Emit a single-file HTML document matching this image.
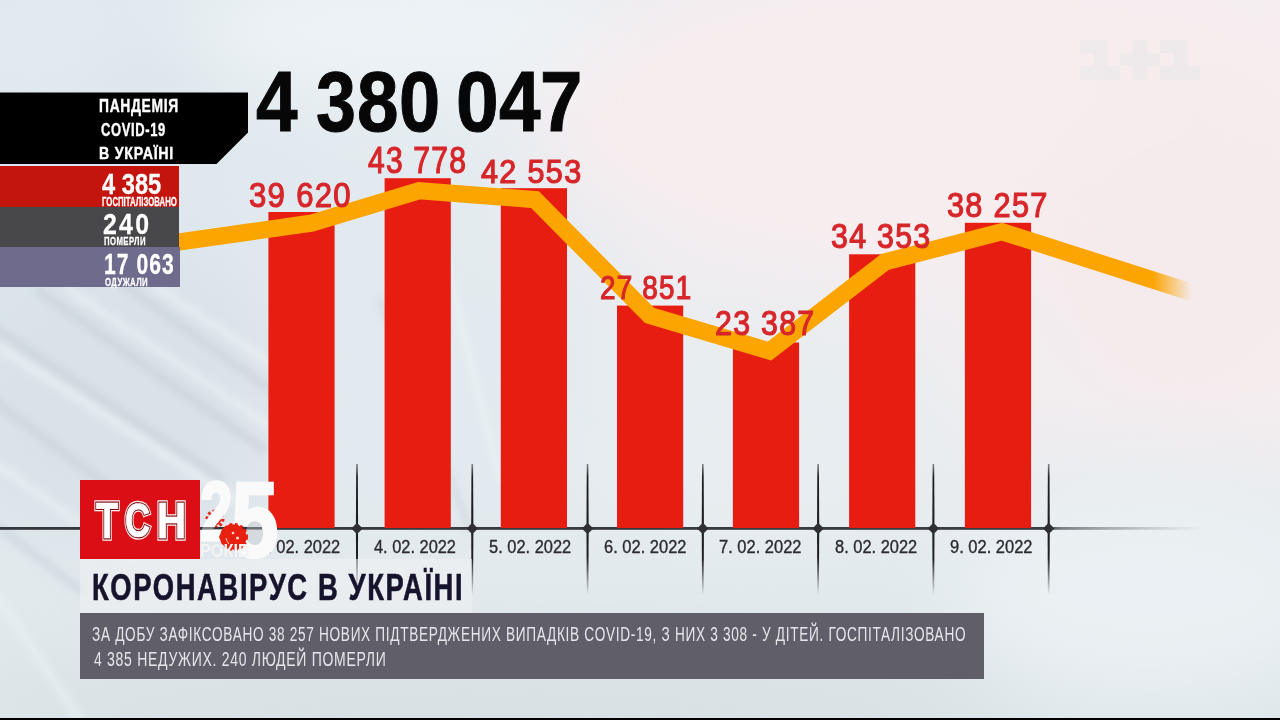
<!DOCTYPE html>
<html><head><meta charset="utf-8">
<style>
html,body{margin:0;padding:0;}
body{width:1280px;height:720px;overflow:hidden;position:relative;font-family:"Liberation Sans",sans-serif;background:#e4e8eb;}
.t{position:absolute;white-space:nowrap;line-height:1;transform-origin:0 0;}
.abs{position:absolute;}
#bg{position:absolute;left:0;top:0;width:1280px;height:720px;}
</style></head><body>
<div id="wrap" style="position:absolute;left:0;top:0;width:1280px;height:720px;filter:blur(0.45px)">
<svg id="bg" width="1280" height="720" viewBox="0 0 1280 720">
<defs>
  <filter id="b40" x="-50%" y="-50%" width="200%" height="200%"><feGaussianBlur stdDeviation="40"/></filter>
  <filter id="b20" x="-50%" y="-50%" width="200%" height="200%"><feGaussianBlur stdDeviation="20"/></filter>
  <filter id="b4" x="-20%" y="-20%" width="140%" height="140%"><feGaussianBlur stdDeviation="3.5"/></filter>
  <linearGradient id="bgH" x1="0" y1="0" x2="1" y2="0">
    <stop offset="0" stop-color="#dce6ec"/>
    <stop offset="0.35" stop-color="#e3ebf0"/>
    <stop offset="0.55" stop-color="#eeedf0"/>
    <stop offset="1" stop-color="#f5edef"/>
  </linearGradient>
  <linearGradient id="bgV" x1="0" y1="0" x2="0" y2="1">
    <stop offset="0" stop-color="#e2eaee" stop-opacity="0"/>
    <stop offset="0.55" stop-color="#e2eaee" stop-opacity="0"/>
    <stop offset="0.78" stop-color="#e2eaee" stop-opacity="1"/>
    <stop offset="1" stop-color="#dde6ea" stop-opacity="1"/>
  </linearGradient>
</defs>
<rect width="1280" height="720" fill="url(#bgH)"/>
<rect width="1280" height="720" fill="url(#bgV)"/>
<g filter="url(#b40)">
  <ellipse cx="60" cy="40" rx="140" ry="60" fill="#e2ebf1"/>
  <ellipse cx="400" cy="30" rx="220" ry="70" fill="#edf3f6"/>
  <ellipse cx="920" cy="120" rx="380" ry="150" fill="#f7edef"/>
  <ellipse cx="1180" cy="240" rx="130" ry="150" fill="#f5eaec"/>
  <ellipse cx="1150" cy="590" rx="200" ry="110" fill="#eaf0f3"/>
  <ellipse cx="120" cy="400" rx="170" ry="150" fill="#d9e2e8"/>
  <ellipse cx="440" cy="400" rx="170" ry="150" fill="#e2eaef"/>
  <ellipse cx="760" cy="430" rx="200" ry="110" fill="#e7edf0"/>
  <ellipse cx="500" cy="705" rx="520" ry="40" fill="#d8dfe3"/>
  <ellipse cx="150" cy="85" rx="50" ry="30" fill="#d9e1e7"/>
</g>
<g filter="url(#b4)" stroke-linecap="round" fill="none" opacity="0.6">
  <path d="M-20,318 L220,478" stroke="#c8d1d8" stroke-width="10"/>
  <path d="M0,348 L235,500" stroke="#eef4f7" stroke-width="9"/>
  <path d="M40,292 L262,448" stroke="#c8d1d8" stroke-width="10"/>
  <path d="M70,290 L272,428" stroke="#eef4f7" stroke-width="8"/>
  <path d="M120,282 L282,398" stroke="#cad3da" stroke-width="10"/>
  <path d="M155,286 L300,382" stroke="#eef4f7" stroke-width="8"/>
  <path d="M-10,398 L165,528" stroke="#c9d2d9" stroke-width="10"/>
  <path d="M-20,452 L132,562" stroke="#edf3f6" stroke-width="9"/>
  <path d="M-10,520 L80,590" stroke="#cbd4db" stroke-width="9"/>
  <path d="M0,600 L80,720" stroke="#eaf1f4" stroke-width="10"/>
  <path d="M380,300 L470,530" stroke="#cdd5dc" stroke-width="7"/>
  <path d="M440,240 L500,480" stroke="#f0f5f8" stroke-width="6"/>
</g>
</svg>
<svg class="abs" style="left:0;top:0" width="1280" height="720" viewBox="0 0 1280 720"><g fill="#e8e8e9" opacity="0.5"><path d="M1080,40 H1107 V66 H1120 V80 H1080 V66 H1094 V53 H1080 Z"/><path d="M1120,53 H1133 V40 H1147 V53 H1160 V66 H1147 V80 H1133 V66 H1120 Z"/><path d="M1160,40 H1187 V66 H1200 V80 H1160 V66 H1174 V53 H1160 Z"/></g></svg>
<svg class="abs" style="left:0;top:0" width="1280" height="720" viewBox="0 0 1280 720">
<defs><linearGradient id="axg" x1="0" y1="0" x2="1280" y2="0" gradientUnits="userSpaceOnUse"><stop offset="0" stop-color="#34373b"/><stop offset="0.815" stop-color="#3a3d41"/><stop offset="0.83" stop-color="#7d8186"/><stop offset="0.94" stop-color="#9aa0a5" stop-opacity="0"/></linearGradient><linearGradient id="tkg" x1="0" y1="464" x2="0" y2="595" gradientUnits="userSpaceOnUse"><stop offset="0" stop-color="#1d1f22" stop-opacity="0.5"/><stop offset="0.1" stop-color="#1d1f22"/><stop offset="0.72" stop-color="#1d1f22"/><stop offset="1" stop-color="#1d1f22" stop-opacity="0"/></linearGradient><linearGradient id="lng" x1="1150" y1="0" x2="1192" y2="0" gradientUnits="userSpaceOnUse"><stop offset="0" stop-color="#fca400"/><stop offset="1" stop-color="#fca400" stop-opacity="0"/></linearGradient></defs>
<rect x="0" y="527" width="1210" height="2.8" fill="url(#axg)"/>
<path d="M356.20,464 L355.90,528 L356.20,595 L357.80,595 L358.10,528 L357.80,464 Z" fill="url(#tkg)"/>
<rect x="353.00" y="524.50" width="8" height="8" fill="#2e3034" transform="rotate(45 357.00 528.50)"/>
<path d="M471.48,464 L471.18,528 L471.48,595 L473.08,595 L473.38,528 L473.08,464 Z" fill="url(#tkg)"/>
<rect x="468.28" y="524.50" width="8" height="8" fill="#2e3034" transform="rotate(45 472.28 528.50)"/>
<path d="M586.76,464 L586.46,528 L586.76,595 L588.36,595 L588.66,528 L588.36,464 Z" fill="url(#tkg)"/>
<rect x="583.56" y="524.50" width="8" height="8" fill="#2e3034" transform="rotate(45 587.56 528.50)"/>
<path d="M702.04,464 L701.74,528 L702.04,595 L703.64,595 L703.94,528 L703.64,464 Z" fill="url(#tkg)"/>
<rect x="698.84" y="524.50" width="8" height="8" fill="#2e3034" transform="rotate(45 702.84 528.50)"/>
<path d="M817.32,464 L817.02,528 L817.32,595 L818.92,595 L819.22,528 L818.92,464 Z" fill="url(#tkg)"/>
<rect x="814.12" y="524.50" width="8" height="8" fill="#2e3034" transform="rotate(45 818.12 528.50)"/>
<path d="M932.60,464 L932.30,528 L932.60,595 L934.20,595 L934.50,528 L934.20,464 Z" fill="url(#tkg)"/>
<rect x="929.40" y="524.50" width="8" height="8" fill="#2e3034" transform="rotate(45 933.40 528.50)"/>
<path d="M1047.88,464 L1047.58,528 L1047.88,595 L1049.48,595 L1049.78,528 L1049.48,464 Z" fill="url(#tkg)"/>
<rect x="1044.68" y="524.50" width="8" height="8" fill="#2e3034" transform="rotate(45 1048.68 528.50)"/>
<rect x="268.40" y="212.00" width="66.20" height="316.00" fill="#e81d12"/>
<rect x="384.60" y="178.20" width="66.20" height="349.80" fill="#e81d12"/>
<rect x="500.80" y="188.20" width="66.20" height="339.80" fill="#e81d12"/>
<rect x="617.00" y="305.60" width="66.20" height="222.40" fill="#e81d12"/>
<rect x="732.90" y="342.50" width="66.20" height="185.50" fill="#e81d12"/>
<rect x="849.10" y="254.30" width="66.20" height="273.70" fill="#e81d12"/>
<rect x="964.90" y="222.80" width="66.20" height="305.20" fill="#e81d12"/>
</svg>
<div class="t" style="left:258.28px;top:537.97px;font-size:18.30px;font-weight:normal;color:#2b2b30;transform:scaleX(0.8989);-webkit-text-stroke:0.35px #2b2b30;">3. 02. 2022</div>
<div class="t" style="left:373.82px;top:537.97px;font-size:18.30px;font-weight:normal;color:#2b2b30;transform:scaleX(0.8961);-webkit-text-stroke:0.35px #2b2b30;">4. 02. 2022</div>
<div class="t" style="left:488.84px;top:537.97px;font-size:18.30px;font-weight:normal;color:#2b2b30;transform:scaleX(0.8989);-webkit-text-stroke:0.35px #2b2b30;">5. 02. 2022</div>
<div class="t" style="left:603.86px;top:537.97px;font-size:18.30px;font-weight:normal;color:#2b2b30;transform:scaleX(0.9018);-webkit-text-stroke:0.35px #2b2b30;">6. 02. 2022</div>
<div class="t" style="left:719.14px;top:537.97px;font-size:18.30px;font-weight:normal;color:#2b2b30;transform:scaleX(0.9018);-webkit-text-stroke:0.35px #2b2b30;">7. 02. 2022</div>
<div class="t" style="left:834.68px;top:537.97px;font-size:18.30px;font-weight:normal;color:#2b2b30;transform:scaleX(0.8989);-webkit-text-stroke:0.35px #2b2b30;">8. 02. 2022</div>
<div class="t" style="left:949.70px;top:537.97px;font-size:18.30px;font-weight:normal;color:#2b2b30;transform:scaleX(0.9018);-webkit-text-stroke:0.35px #2b2b30;">9. 02. 2022</div>
<svg class="abs" style="left:0;top:0" width="1280" height="720" viewBox="0 0 1280 720"><defs><linearGradient id="lng2" x1="1145" y1="0" x2="1195" y2="0" gradientUnits="userSpaceOnUse"><stop offset="0" stop-color="#fca400"/><stop offset="1" stop-color="#fca400" stop-opacity="0"/></linearGradient><linearGradient id="lng1" x1="0" y1="0" x2="1280" y2="0" gradientUnits="userSpaceOnUse"><stop offset="0" stop-color="#fca400"/><stop offset="0.9" stop-color="#fca400"/><stop offset="0.931" stop-color="#fca400" stop-opacity="0"/></linearGradient></defs><polyline points="150.0,247.5 179.0,242.0 312.0,223.0 419.0,190.7 535.0,199.7 649.6,315.5 769.5,351.0 885.0,262.0 1002.0,231.7 1192.0,292.5" fill="none" stroke="url(#lng1)" stroke-width="17.2" stroke-linejoin="miter" stroke-miterlimit="4"/></svg>
<div class="t" style="left:249.23px;top:177.81px;font-size:35.83px;font-weight:normal;color:#d7262a;transform:scaleX(0.8678);letter-spacing:1.50px;-webkit-text-stroke:1.2px #d7262a;">39 620</div>
<div class="t" style="left:367.78px;top:143.44px;font-size:36.66px;font-weight:normal;color:#d7262a;transform:scaleX(0.8178);letter-spacing:1.50px;-webkit-text-stroke:1.2px #d7262a;">43 778</div>
<div class="t" style="left:481.12px;top:155.49px;font-size:33.88px;font-weight:normal;color:#d7262a;transform:scaleX(0.9019);letter-spacing:1.50px;-webkit-text-stroke:1.2px #d7262a;">42 553</div>
<div class="t" style="left:599.95px;top:271.43px;font-size:33.95px;font-weight:normal;color:#d7262a;transform:scaleX(0.8199);letter-spacing:1.50px;-webkit-text-stroke:1.2px #d7262a;">27 851</div>
<div class="t" style="left:714.53px;top:304.83px;font-size:35.34px;font-weight:normal;color:#d7262a;transform:scaleX(0.8578);letter-spacing:1.50px;-webkit-text-stroke:1.2px #d7262a;">23 387</div>
<div class="t" style="left:830.65px;top:219.11px;font-size:35.83px;font-weight:normal;color:#d7262a;transform:scaleX(0.8469);letter-spacing:1.50px;-webkit-text-stroke:1.2px #d7262a;">34 353</div>
<div class="t" style="left:946.94px;top:188.00px;font-size:34.85px;font-weight:normal;color:#d7262a;transform:scaleX(0.8795);letter-spacing:1.50px;-webkit-text-stroke:1.2px #d7262a;">38 257</div>
<div class="abs" style="left:0;top:92.4px;width:248px;height:72.1px;background:#000;clip-path:polygon(0 0,248px 0,248px 40.1px,216px 72.1px,0 72.1px)"></div>
<div class="abs" style="left:0;top:166px;width:179px;height:40.5px;background:#c4140e"></div>
<div class="abs" style="left:0;top:206.5px;width:179px;height:40px;background:#48484a"></div>
<div class="abs" style="left:0;top:246.5px;width:179.5px;height:40px;background:#6e6b8d"></div>
<div class="t" style="left:99.48px;top:97.05px;font-size:18.13px;font-weight:bold;color:#fff;transform:scaleX(0.7644);letter-spacing:0.90px;-webkit-text-stroke:0.4px #fff;">ПАНДЕМІЯ</div>
<div class="t" style="left:100.64px;top:121.33px;font-size:18.23px;font-weight:bold;color:#fff;transform:scaleX(0.7113);letter-spacing:0.90px;-webkit-text-stroke:0.4px #fff;">COVID-19</div>
<div class="t" style="left:99.46px;top:144.57px;font-size:17.25px;font-weight:bold;color:#fff;transform:scaleX(0.8243);letter-spacing:0.90px;-webkit-text-stroke:0.4px #fff;">В УКРАЇНІ</div>
<div class="t" style="left:101.73px;top:169.01px;font-size:30.26px;font-weight:bold;color:#fff;transform:scaleX(0.7823);-webkit-text-stroke:0.3px #fff;">4 385</div>
<div class="t" style="left:101.54px;top:195.55px;font-size:12.17px;font-weight:bold;color:#fff;transform:scaleX(0.6415);-webkit-text-stroke:0.3px #fff;">ГОСПІТАЛІЗОВАНО</div>
<div class="t" style="left:103.25px;top:208.61px;font-size:29.91px;font-weight:bold;color:#fff;transform:scaleX(0.8333);letter-spacing:2.70px;-webkit-text-stroke:0.3px #fff;">240</div>
<div class="t" style="left:104.24px;top:236.87px;font-size:10.30px;font-weight:bold;color:#fff;transform:scaleX(0.7508);letter-spacing:0.60px;-webkit-text-stroke:0.3px #fff;">ПОМЕРЛИ</div>
<div class="t" style="left:104.36px;top:249.08px;font-size:29.77px;font-weight:bold;color:#fff;transform:scaleX(0.7081);letter-spacing:1.50px;-webkit-text-stroke:0.3px #fff;">17 063</div>
<div class="t" style="left:105.43px;top:277.38px;font-size:11.27px;font-weight:bold;color:#fff;transform:scaleX(0.6899);letter-spacing:0.60px;-webkit-text-stroke:0.3px #fff;">ОДУЖАЛИ</div>
<div class="t" style="left:256.45px;top:60.23px;font-size:84.41px;font-weight:bold;color:#070707;transform:scaleX(0.8846);-webkit-text-stroke:1px #070707;">4</div>
<div class="t" style="left:316.43px;top:60.23px;font-size:84.41px;font-weight:bold;color:#070707;transform:scaleX(0.8501);-webkit-text-stroke:1px #070707;">3</div>
<div class="t" style="left:356.87px;top:60.23px;font-size:84.41px;font-weight:bold;color:#070707;transform:scaleX(0.8838);-webkit-text-stroke:1px #070707;">8</div>
<div class="t" style="left:399.23px;top:60.23px;font-size:84.41px;font-weight:bold;color:#070707;transform:scaleX(0.8781);-webkit-text-stroke:1px #070707;">0</div>
<div class="t" style="left:456.45px;top:60.23px;font-size:84.41px;font-weight:bold;color:#070707;transform:scaleX(0.9080);-webkit-text-stroke:1px #070707;">0</div>
<div class="t" style="left:499.45px;top:60.23px;font-size:84.41px;font-weight:bold;color:#070707;transform:scaleX(0.8856);-webkit-text-stroke:1px #070707;">4</div>
<div class="t" style="left:540.47px;top:60.23px;font-size:84.41px;font-weight:bold;color:#070707;transform:scaleX(0.9037);-webkit-text-stroke:1px #070707;">7</div>
<div class="abs" style="left:80px;top:559px;width:392px;height:53.5px;background:rgba(240,240,243,0.55)"></div>
<div class="abs" style="left:80px;top:612.5px;width:904px;height:66.5px;background:#5f5e69"></div>
<div class="t" style="left:92.34px;top:569.35px;font-size:37.29px;font-weight:bold;color:#17132d;transform:scaleX(0.7347);letter-spacing:2.20px;-webkit-text-stroke:0.6px #17132d;">КОРОНАВІРУС В УКРАЇНІ</div>
<div class="t" style="left:92.35px;top:623.71px;font-size:20.10px;font-weight:normal;color:#e6e6ea;transform:scaleX(0.6792);letter-spacing:1.00px;">ЗА ДОБУ ЗАФІКСОВАНО 38 257 НОВИХ ПІДТВЕРДЖЕНИХ ВИПАДКІВ COVID-19, З НИХ 3 308 - У ДІТЕЙ. ГОСПІТАЛІЗОВАНО</div>
<div class="t" style="left:93.56px;top:649.80px;font-size:19.86px;font-weight:normal;color:#e6e6ea;transform:scaleX(0.7058);letter-spacing:1.00px;">4 385 НЕДУЖИХ. 240 ЛЮДЕЙ ПОМЕРЛИ</div>
<div class="abs" style="left:80px;top:480.3px;width:120px;height:78.7px;background:#dc0e15"></div>
<div class="t" style="left:96.10px;top:495.93px;font-size:49.21px;font-weight:bold;transform:scaleX(0.7387);color:#fff;-webkit-text-stroke:5.4px #fff2f2">Т</div>
<div class="t" style="left:96.10px;top:495.93px;font-size:49.21px;font-weight:bold;transform:scaleX(0.7387);color:#fff;-webkit-text-stroke:3.0px #7c1014">Т</div>
<div class="t" style="left:96.10px;top:495.93px;font-size:49.21px;font-weight:bold;transform:scaleX(0.7387);color:#fff;-webkit-text-stroke:0.7px #fff">Т</div>
<div class="t" style="left:125.01px;top:496.09px;font-size:48.14px;font-weight:bold;transform:scaleX(0.7235);color:#fff;-webkit-text-stroke:5.4px #fff2f2">С</div>
<div class="t" style="left:125.01px;top:496.09px;font-size:48.14px;font-weight:bold;transform:scaleX(0.7235);color:#fff;-webkit-text-stroke:3.0px #7c1014">С</div>
<div class="t" style="left:125.01px;top:496.09px;font-size:48.14px;font-weight:bold;transform:scaleX(0.7235);color:#fff;-webkit-text-stroke:0.7px #fff">С</div>
<div class="t" style="left:156.72px;top:495.93px;font-size:49.21px;font-weight:bold;transform:scaleX(0.8214);color:#fff;-webkit-text-stroke:5.4px #fff2f2">Н</div>
<div class="t" style="left:156.72px;top:495.93px;font-size:49.21px;font-weight:bold;transform:scaleX(0.8214);color:#fff;-webkit-text-stroke:3.0px #7c1014">Н</div>
<div class="t" style="left:156.72px;top:495.93px;font-size:49.21px;font-weight:bold;transform:scaleX(0.8214);color:#fff;-webkit-text-stroke:0.7px #fff">Н</div>
<svg class="abs" style="left:0;top:0" width="1280" height="720" viewBox="0 0 1280 720"><ellipse cx="255" cy="534" rx="9" ry="14" fill="#d5dade"/><rect x="261" y="536" width="7" height="20" fill="#d9dee2"/><circle cx="215" cy="519" r="6.5" fill="#e8200f"/><circle cx="215" cy="519" r="8" fill="none" stroke="#e8200f" stroke-width="3" stroke-dasharray="2.6 2.4"/></svg>
<div class="t" style="left:200.3px;top:470.3px;font-size:83.0px;font-weight:bold;color:#fafafa;transform:scaleX(0.70);-webkit-text-stroke:3px #fafafa">2</div>
<div class="t" style="left:230.8px;top:467.0px;font-size:107.0px;font-weight:bold;color:#fafafa;transform:scaleX(0.80);-webkit-text-stroke:2.5px #fafafa">5</div>
<svg class="abs" style="left:0;top:0" width="1280" height="720" viewBox="0 0 1280 720"><rect x="200" y="527" width="62" height="2.6" fill="#2a2d30" opacity="0.6"/><path d="M223,528 L230,524 L238,525 L245,530 L247,538 L244,546 L237,550 L228,549 L222,544 L219,537 Z" fill="#e8200f"/><circle cx="234" cy="537" r="12.5" fill="none" stroke="#e8200f" stroke-width="3" stroke-dasharray="2.8 2.6"/><circle cx="233" cy="533" r="1.3" fill="#f6d6d0"/><circle cx="237.5" cy="538" r="1.6" fill="#f6d6d0"/><path d="M226,538 Q227,542 229,544" stroke="#f6d6d0" stroke-width="1" fill="none"/></svg>
<div class="t" style="left:200.37px;top:542.30px;font-size:18.78px;font-weight:bold;color:#f4f4f4;transform:scaleX(0.8750)">РОКІВ</div>
<div class="abs" style="left:0;top:718px;width:1280px;height:2px;background:#000"></div>
</div>
</body></html>
